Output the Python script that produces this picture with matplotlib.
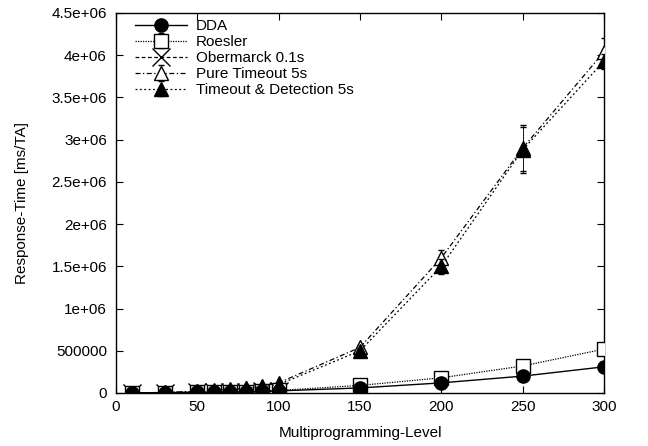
import matplotlib
matplotlib.use("Agg")
import matplotlib.pyplot as plt

plt.rcParams['font.family'] = ['Liberation Sans', 'DejaVu Sans']

x_all = [10, 30, 50, 60, 70, 80, 90, 100, 150, 200, 250, 300]
dda = [2000, 4000, 8000, 10000, 12000, 15000, 18000, 25000, 60000, 120000, 200000, 310000]
roesler = [2000, 4000, 9000, 11000, 14000, 17000, 21000, 30000, 90000, 180000, 320000, 520000]
roesler_err = [0, 0, 0, 0, 0, 0, 0, 0, 5000, 10000, 20000, 30000]
x_ober = [10, 30, 50, 60, 70, 80, 90, 100]
obermarck = [2000, 4000, 8000, 10000, 12000, 15000, 18000, 25000]
pure = [3000, 6000, 20000, 30000, 45000, 60000, 85000, 120000, 540000, 1600000, 2900000, 4040000]
pure_err = [0, 0, 0, 0, 0, 0, 0, 10000, 30000, 90000, 270000, 160000]
tdet = [3000, 6000, 18000, 28000, 40000, 55000, 75000, 100000, 500000, 1500000, 2880000, 3930000]
tdet_err = [0, 0, 0, 0, 0, 0, 0, 10000, 30000, 90000, 270000, 90000]

W, H = 648, 446
fig = plt.figure(figsize=(W / 100, H / 100), dpi=100)
ax = fig.add_axes([116 / W, 1 - 393 / H, (604 - 116) / W, (393 - 13) / H])

ms = 9.5
ax.errorbar(x_all, dda, color='black', lw=1.0, ls='-', marker='o', ms=ms,
            mfc='black', mec='black', label='DDA', zorder=5)
ax.errorbar(x_all, roesler, yerr=roesler_err, color='black', lw=0.9, ls=(0, (1, 1)),
            marker='s', ms=ms, mfc='white', mec='black', capsize=2, elinewidth=0.6,
            label='Roesler', zorder=4)
ax.errorbar(x_ober, obermarck, color='black', lw=0.9, ls=(0, (3, 2)), marker='x', ms=13,
            mew=1.0, label='Obermarck 0.1s', zorder=3)
ax.errorbar(x_all, pure, yerr=pure_err, color='black', lw=0.9, ls=(0, (4, 2, 1, 2)),
            marker='^', ms=ms, mfc='white', mec='black', capsize=2, elinewidth=0.6,
            label='Pure Timeout 5s', zorder=3)
eb = ax.errorbar(x_all, tdet, yerr=tdet_err, color='black', lw=0.9, ls=(0, (1.5, 2)),
                 marker='^', ms=ms, mfc='black', mec='black', capsize=2, elinewidth=0.6,
                 label='Timeout & Detection 5s', zorder=4)
eb[2][0].set_linestyle((0, (1.5, 2)))

ax.set_xlim(0, 300)
ax.set_ylim(0, 4.5e6)
ax.set_xticks([0, 50, 100, 150, 200, 250, 300])
yt = [0, 500000, 1000000, 1500000, 2000000, 2500000, 3000000, 3500000, 4000000, 4500000]
ylabels = ['0', '500000', '1e+06', '1.5e+06', '2e+06', '2.5e+06', '3e+06', '3.5e+06', '4e+06', '4.5e+06']
ax.set_yticks(yt)
ax.set_yticklabels(ylabels)
ax.tick_params(direction='in', top=True, right=True, length=5, width=0.8, labelsize=11)
ax.tick_params(axis='y', pad=6.5)
ax.tick_params(axis='x', pad=5)
for s in ax.spines.values():
    s.set_linewidth(1.0)

ax.set_xlabel('Multiprogramming-Level', fontsize=11, labelpad=9)
ax.set_ylabel('Response-Time [ms/TA]', fontsize=11, labelpad=16)

handles, labels = ax.get_legend_handles_labels()
leg = fig.legend(handles, labels, loc='upper left', frameon=False, fontsize=11,
                 handlelength=3.4, labelspacing=0.13, borderaxespad=0, borderpad=0,
                 bbox_to_anchor=(135 / W, 1 - 19 / H), handletextpad=0.6)

fig.savefig('out.png', dpi=100)
